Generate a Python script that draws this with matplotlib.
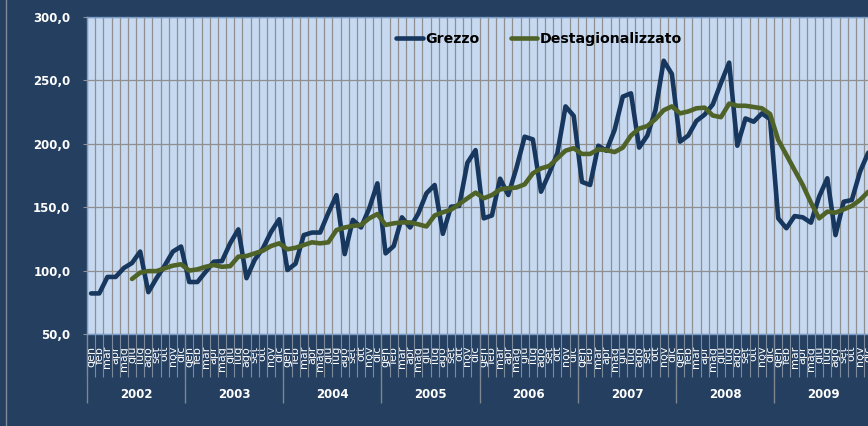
import matplotlib
matplotlib.use("Agg")
import matplotlib.pyplot as plt
from matplotlib.lines import Line2D
from matplotlib.ticker import FixedLocator, FuncFormatter

OUT = "out.png"

# --- data: monthly index, gen 2002 .. dic 2009 ---
anni = [2002, 2003, 2004, 2005, 2006, 2007, 2008, 2009]
mesi = ["gen", "feb", "mar", "apr", "mag", "giu", "lug", "ago", "set", "ott", "nov", "dic"]

grezzo = [
    82, 82, 95, 95, 102, 106, 115, 83, 94, 104, 115, 119,                  # 2002
    91, 91, 99, 107, 107.5, 121.5, 132.5, 94, 108.5, 117.5, 130.5, 140.5,  # 2003
    100.5, 105.5, 128, 130, 130, 145.5, 159.5, 113, 140, 134, 149, 168.8,  # 2004
    113.6, 119.4, 142, 134, 145, 161, 167.5, 129, 150.4, 151, 185, 195,    # 2005
    141.2, 143.5, 172.5, 159.6, 181, 205.6, 203.5, 162.2, 176.7, 192.5, 229.5, 222,  # 2006
    170, 167.5, 198.5, 194.5, 211, 237.2, 239.8, 197, 206.5, 226.7, 265.5, 255,      # 2007
    201.7, 206.5, 218, 223, 231, 248, 264, 198.5, 220, 217.4, 224, 219.5,            # 2008
    141.2, 133.4, 143, 142, 137.8, 158.3, 172.8, 128, 154.3, 155.7, 178, 193,        # 2009
]

# destagionalizzato starts at giu 2002
DESTAG_START = 5
destag = [
    93.4, 98.4, 99.6, 99.6, 101.8, 103.9, 105,                              # 2002 (giu-dic)
    100, 101, 103, 104.4, 103, 103.5, 111, 111.5, 113.6, 115.7, 119.4, 121.5,  # 2003
    116.8, 118, 120.2, 122.3, 121.5, 122.3, 132, 134, 135.2, 136, 141.2, 144.6,  # 2004
    136, 137.3, 138, 138, 136.5, 134.8, 143.5, 146, 148, 152.5, 157, 161.5,      # 2005
    157, 159.6, 164, 165, 165.5, 168, 176.7, 180.6, 182.5, 188.5, 194.6, 196.5,  # 2006
    192, 192, 195.6, 195, 193.5, 197, 206.5, 212, 214, 219.5, 226.5, 229.5,      # 2007
    224, 225.5, 228, 228.5, 222.3, 221, 231.7, 230, 230, 229, 228, 223.5,        # 2008
    203, 191.2, 179.3, 167.5, 153.6, 141.2, 146.5, 145.7, 148.3, 151, 155.7, 162.2,  # 2009
]

BG = "#243F60"
PLOT_BG = "#C6D9F1"
GRID = "#8F8F8F"
C_GREZZO = "#17375E"
C_DESTAG = "#4F6228"

n_mesi = len(anni) * 12
x_grezzo = [i + 0.5 for i in range(len(grezzo))]
x_destag = [i + 0.5 for i in range(DESTAG_START, DESTAG_START + len(destag))]

fig = plt.figure(figsize=(8.68, 4.26), dpi=100, facecolor=BG)
ax = fig.add_axes([87 / 868, 92 / 426, 785.3 / 868, 317 / 426])
ax.set_facecolor(PLOT_BG)

ax.plot(x_grezzo, grezzo, color=C_GREZZO, lw=3.3, label="Grezzo",
        solid_joinstyle="round", solid_capstyle="round", zorder=3)
ax.plot(x_destag, destag, color=C_DESTAG, lw=3.3, label="Destagionalizzato",
        solid_joinstyle="round", solid_capstyle="round", zorder=4)

ax.set_xlim(0, n_mesi)
ax.set_ylim(50, 300)

# y axis
ax.set_yticks(range(50, 301, 50))
ax.yaxis.set_major_formatter(FuncFormatter(lambda v, p: f"{v:.1f}".replace(".", ",")))
ax.tick_params(axis="y", length=3, color=GRID, pad=9, labelsize=8.5, labelcolor="white")
for lab in ax.get_yticklabels():
    lab.set_fontweight("bold")

# x axis: month labels in the middle, boundaries as minor ticks
ax.xaxis.set_major_locator(FixedLocator(x_grezzo))
ax.set_xticklabels(mesi * len(anni))
ax.xaxis.set_minor_locator(FixedLocator(range(0, n_mesi + 1)))
ax.tick_params(axis="x", which="major", length=0, pad=8.6, labelsize=8,
               labelcolor="white", labelrotation=90)
ax.tick_params(axis="x", which="minor", length=31, width=0.8, color="#7D8A9C")

# year separators + labels
sec = ax.secondary_xaxis("bottom")
sec.set_xticks(range(0, n_mesi + 1, 12))
sec.tick_params(length=49.7, width=1, color="#7F8690", labelbottom=False)
sec.spines["bottom"].set_visible(False)
for k, anno in enumerate(anni):
    ax.text(k * 12 + 6, -60 / 317, str(anno), transform=ax.get_xaxis_transform(),
            ha="center", va="center", fontsize=8.5, fontweight="bold", color="white")

ax.grid(which="minor", axis="x", color=GRID, lw=0.9)
ax.grid(which="major", axis="y", color=GRID, lw=0.9)
ax.set_axisbelow(True)
for s in ax.spines.values():
    s.set_color("#7A9CC8")
    s.set_linewidth(1)

leg = ax.legend(loc="center left", bbox_to_anchor=(389 / 868, 1 - 39 / 426),
                bbox_transform=fig.transFigure, ncol=2, frameon=False,
                borderpad=0, handlelength=1.9, handletextpad=0.15,
                columnspacing=2.2, prop={"size": 10.2, "weight": "bold"})

# chart area border on the left
fig.add_artist(Line2D([5.5 / 868, 5.5 / 868], [0, 1], transform=fig.transFigure,
                      color="#7F8A99", lw=1))

fig.savefig(OUT, dpi=100, facecolor=BG)
